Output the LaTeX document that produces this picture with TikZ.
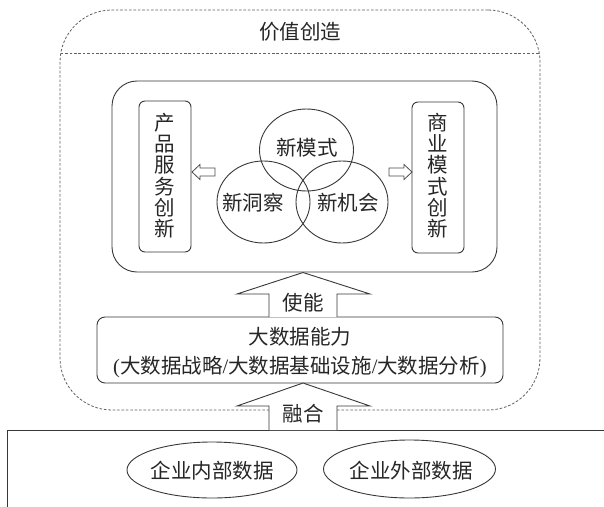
\documentclass[tikz,border=0pt]{standalone}
\usepackage{fontspec}
\setmainfont{Noto Sans CJK SC}
\newfontfamily\lat{Liberation Serif}
\usetikzlibrary{shapes.geometric,calc}
\begin{document}
\begin{tikzpicture}[x=1pt,y=-1pt,
  line/.style={draw=black!78, line width=0.9pt},
  dashline/.style={draw=black!62, line width=0.8pt, dash pattern=on 2.6pt off 1.8pt},
  txt/.style={font=\fontsize{20.5}{21.3}\selectfont, inner sep=0pt, text=black!85},
  rbox/.style={line, rounded corners=#1, inner sep=0pt},
  oval/.style={line, ellipse, inner sep=0pt},
  bigarrow/.style={line, fill=white, line join=miter},
  hollow/.style={draw=black!70, line width=0.8pt, fill=white, line join=miter}
]
\useasboundingbox (0,0) rectangle (604,506);
\fill[white] (0,0) rectangle (604,506);
% bottom data area (cropped frame)
\begin{scope}
\clip (0,0) rectangle (604,506);
\coordinate (fb) at (7,520);
\coordinate (ft) at (7,430);
\coordinate (fr) at (620,430);
\draw[line] (fb) -- (ft) -- (fr);
\end{scope}
% outer dashed value-creation frame
\node[dashline, rounded corners=52pt, minimum width=480pt, minimum height=400pt, inner sep=0pt] (value) at (300,210) {};
\coordinate (dl) at (60.8,53);
\coordinate (dr) at (539.2,53);
\draw[dashline] (dl) -- (dr);
\node[txt] (title) at (300,32) {价值创造};
% inner core box
\node[rbox=25pt, minimum width=385pt, minimum height=191pt] (core) at (304.5,176.5) {};
\node[rbox=6pt, minimum width=52pt, minimum height=151pt] (prod) at (165,176.5) {};
\node[txt, align=center] (prodt) at (165,175.5) {产\\品\\服\\务\\创\\新};
\node[rbox=6pt, minimum width=52pt, minimum height=151pt] (biz) at (438,177.5) {};
\node[txt, align=center] (bizt) at (438,175.5) {商\\业\\模\\式\\创\\新};
% three circles
\node[oval, minimum width=94pt, minimum height=82pt] (mode) at (306.5,150) {};
\node[oval, minimum width=93pt, minimum height=82pt] (insight) at (263.5,202) {};
\node[oval, minimum width=92pt, minimum height=82pt] (chance) at (342,202) {};
\node[txt] (modet) at (307,148) {新模式};
\node[txt] (insightt) at (253,203) {新洞察};
\node[txt] (chancet) at (348,203) {新机会};
% hollow arrows
\coordinate (la) at (192,172);
\draw[hollow] (la) -- ++(8,-7.5) -- ++(0,3.5) -- ++(15,0) -- ++(0,8) -- ++(-15,0) -- ++(0,3.5) -- cycle;
\coordinate (ra) at (412,172);
\draw[hollow] (ra) -- ++(-8,-7.5) -- ++(0,3.5) -- ++(-15,0) -- ++(0,8) -- ++(15,0) -- ++(0,3.5) -- cycle;
% big data capability box
\node[rbox=8pt, minimum width=406pt, minimum height=66pt] (cap) at (300,350) {};
\node[txt] (capt1) at (300,337) {大数据能力};
\node[txt] (capt2) at (300,367) {{\lat(}大数据战略{\lat/}大数据基础设施{\lat/}大数据分析{\lat)}};
% enabling arrow
\coordinate (en) at (303,272.5);
\draw[bigarrow] (269,317) -- (269,294) -- (237,294) -- (en) -- (370,294) -- (337,294) -- (337,317);
\node[txt] (ent) at (303,303) {使能};
% fusion arrow
\coordinate (fu) at (303,383);
\draw[bigarrow] (269,430) -- (269,406) -- (237,406) -- (fu) -- (370,406) -- (337,406) -- (337,430);
\node[txt] (fut) at (303,414) {融合};
% data sources
\node[oval, minimum width=170pt, minimum height=56pt] (inner) at (212,470) {};
\node[txt] (innert) at (212,471) {企业内部数据};
\node[oval, minimum width=172pt, minimum height=58pt] (outer) at (409.5,469) {};
\node[txt] (outert) at (411,471) {企业外部数据};
\end{tikzpicture}
\end{document}
